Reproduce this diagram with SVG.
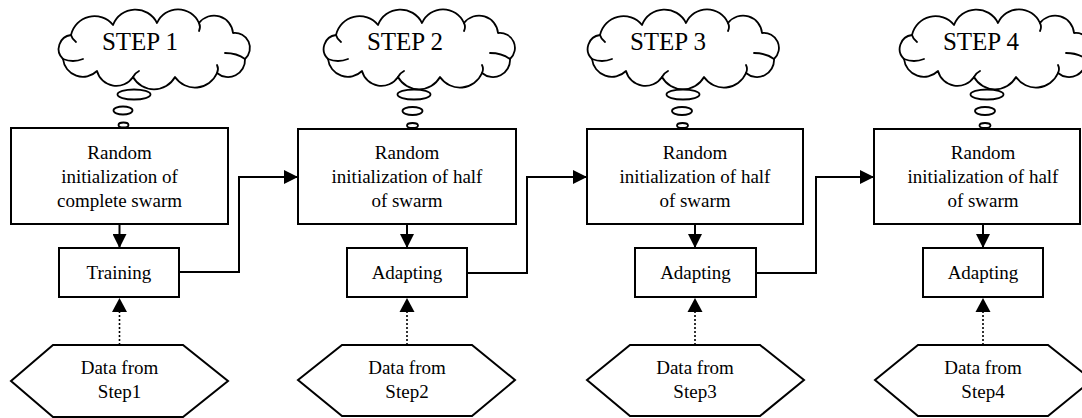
<svg xmlns="http://www.w3.org/2000/svg" width="1082" height="418" viewBox="0 0 1082 418" font-family="Liberation Serif, Times New Roman, serif">
<style>
.box{fill:#fff;stroke:#000;stroke-width:2}
.cloud{fill:#fff;stroke:#000;stroke-width:1.8;stroke-linejoin:round}
.crease{fill:none;stroke:#000;stroke-width:1.8;stroke-linecap:round}
.bub{fill:#fff;stroke:#000;stroke-width:1.8}
.t{font-size:19px;fill:#000;text-anchor:middle}
.st{font-size:25px;fill:#000;text-anchor:middle}
.ln{fill:none;stroke:#000;stroke-width:2}
.dot{fill:none;stroke:#000;stroke-width:1.6;stroke-dasharray:2,2}
</style>
<defs>
<marker id="ah" markerUnits="userSpaceOnUse" markerWidth="16" markerHeight="14" refX="14" refY="7" orient="auto">
<path d="M0,0 L14,7 L0,14 Z" fill="#000"/>
</marker>
<g id="cloudShape">
<path class="cloud" d="M6,46 A14,14 0 0 1 14,22 A24,24 0 0 1 56,12 A24,24 0 0 1 100,10 A23,23 0 0 1 142,10 A19,19 0 0 1 176,20 A15,15 0 0 1 188,46 A17,17 0 0 1 160,60 A24,24 0 0 1 118,64 A24,24 0 0 1 76,64 A20,20 0 0 1 40,58 A20,20 0 0 1 6,46 Z"/>
<path class="crease" d="M6,46 Q16,50 26,46 M188,46 Q180,40 168,40 M160,60 Q162,56 160,52 M76,64 Q78,60 82,58 M14,22 Q15,26 19,29 M142,10 Q144,14 142,18"/>
</g>
</defs>

<g id="step1">
<use href="#cloudShape" x="57" y="13"/>
<text class="st" x="140" y="50">STEP 1</text>
<ellipse class="bub" cx="134" cy="94.5" rx="16.5" ry="5"/>
<ellipse class="bub" cx="123" cy="110.5" rx="9.5" ry="4"/>
<ellipse class="bub" cx="123.5" cy="125" rx="5" ry="2.5"/>
</g>
<g id="box1">
<rect class="box" x="11" y="128" width="217" height="96"/>
<text class="t" x="119.5" y="159">Random</text>
<text class="t" x="119.5" y="183">initialization of</text>
<text class="t" x="119.5" y="207">complete swarm</text>
</g>
<g id="train1">
<rect class="box" x="59" y="248" width="120" height="49"/>
<text class="t" x="119" y="279">Training</text>
</g>
<g id="data1">
<polygon class="box" points="11,381 53,345 183,345 228,381 183,417 53,417"/>
<text class="t" x="119.5" y="374">Data from</text>
<text class="t" x="119.5" y="398">Step1</text>
</g>

<g id="step2">
<use href="#cloudShape" x="322" y="13"/>
<text class="st" x="405" y="50">STEP 2</text>
<ellipse class="bub" cx="414" cy="94.5" rx="16.5" ry="5"/>
<ellipse class="bub" cx="412.5" cy="111" rx="10" ry="4"/>
<ellipse class="bub" cx="412.5" cy="125.5" rx="5.5" ry="2.5"/>
</g>
<g id="box2">
<rect class="box" x="298" y="129" width="218" height="95"/>
<text class="t" x="407" y="159">Random</text>
<text class="t" x="407" y="183">initialization of half</text>
<text class="t" x="407" y="207">of swarm</text>
</g>
<g id="adapt2">
<rect class="box" x="347" y="248" width="120" height="49"/>
<text class="t" x="407" y="279">Adapting</text>
</g>
<g id="data2">
<polygon class="box" points="298,380 342,345 472,345 515,380 472,416 342,416"/>
<text class="t" x="407" y="374">Data from</text>
<text class="t" x="407" y="398">Step2</text>
</g>

<g id="step3">
<use href="#cloudShape" x="586" y="13"/>
<text class="st" x="668" y="50">STEP 3</text>
<ellipse class="bub" cx="683" cy="94.5" rx="16.5" ry="5"/>
<ellipse class="bub" cx="682" cy="111" rx="10" ry="4"/>
<ellipse class="bub" cx="682.5" cy="125.5" rx="5.5" ry="2.5"/>
</g>
<g id="box3">
<rect class="box" x="587" y="129" width="216" height="95"/>
<text class="t" x="695" y="159">Random</text>
<text class="t" x="695" y="183">initialization of half</text>
<text class="t" x="695" y="207">of swarm</text>
</g>
<g id="adapt3">
<rect class="box" x="635" y="248" width="121" height="49"/>
<text class="t" x="695.5" y="279">Adapting</text>
</g>
<g id="data3">
<polygon class="box" points="587,380 630,345 760,345 804,380 760,416 630,416"/>
<text class="t" x="695" y="374">Data from</text>
<text class="t" x="695" y="398">Step3</text>
</g>

<g id="step4">
<use href="#cloudShape" x="898" y="13"/>
<text class="st" x="981" y="50">STEP 4</text>
<ellipse class="bub" cx="987" cy="94.5" rx="16.5" ry="5"/>
<ellipse class="bub" cx="985" cy="111" rx="10" ry="4"/>
<ellipse class="bub" cx="985" cy="125.5" rx="5.5" ry="2.5"/>
</g>
<g id="box4">
<rect class="box" x="874" y="129" width="206" height="95"/>
<text class="t" x="983" y="159">Random</text>
<text class="t" x="983" y="183">initialization of half</text>
<text class="t" x="983" y="207">of swarm</text>
</g>
<g id="adapt4">
<rect class="box" x="923" y="248" width="120" height="49"/>
<text class="t" x="983" y="279">Adapting</text>
</g>
<g id="data4">
<polygon class="box" points="875,380 918,345 1048,345 1092,380 1048,416 918,416"/>
<text class="t" x="983" y="374">Data from</text>
<text class="t" x="983" y="398">Step4</text>
</g>

<g id="connectors">
<path class="ln" d="M119.5,224 V248" marker-end="url(#ah)"/>
<path class="ln" d="M407,224 V248" marker-end="url(#ah)"/>
<path class="ln" d="M695,224 V248" marker-end="url(#ah)"/>
<path class="ln" d="M983,224 V248" marker-end="url(#ah)"/>
<path class="ln" d="M179,272 H239 V177 H298" marker-end="url(#ah)"/>
<path class="ln" d="M467,273 H527 V177 H587" marker-end="url(#ah)"/>
<path class="ln" d="M756,273 H816 V177 H874" marker-end="url(#ah)"/>
<path class="dot" d="M119.5,345 V312"/>
<path d="M112,312 L119.5,298 L127,312 Z" fill="#000"/>
<path class="dot" d="M407,345 V312"/>
<path d="M399.5,312 L407,298 L414.5,312 Z" fill="#000"/>
<path class="dot" d="M695,345 V312"/>
<path d="M687.5,312 L695,298 L702.5,312 Z" fill="#000"/>
<path class="dot" d="M983,345 V312"/>
<path d="M975.5,312 L983,298 L990.5,312 Z" fill="#000"/>
</g>
</svg>
